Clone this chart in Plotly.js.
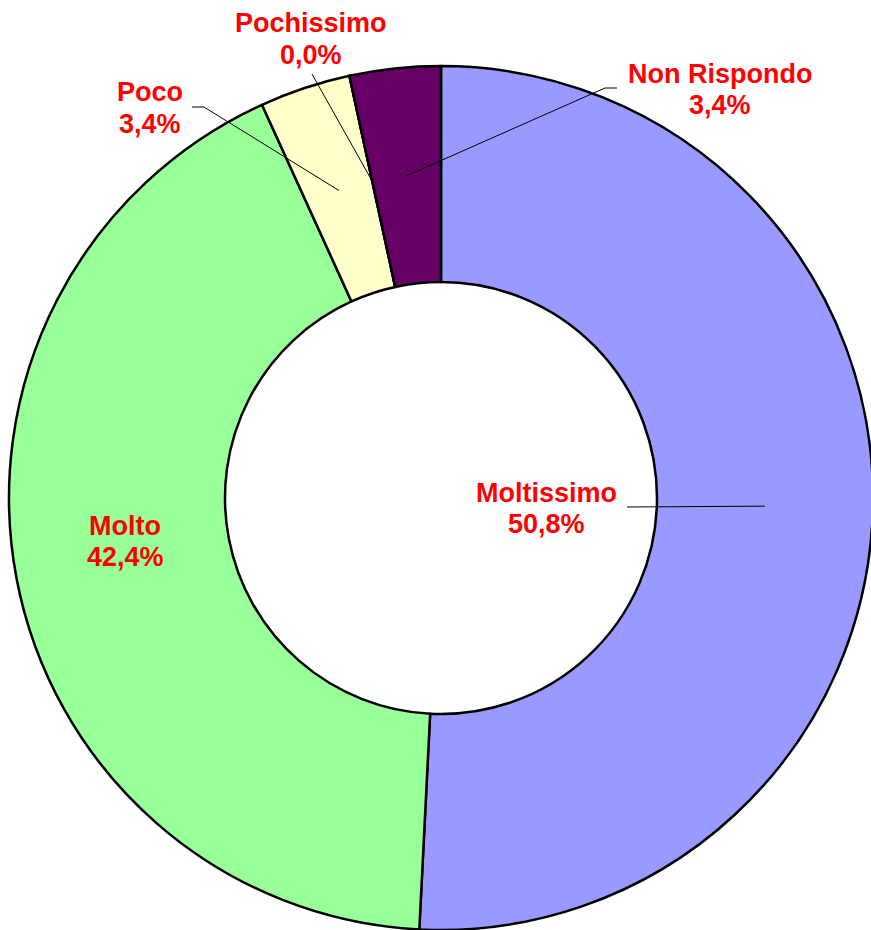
<!DOCTYPE html>
<html><head><meta charset="utf-8">
<script src="https://cdn.plot.ly/plotly-3.0.1.min.js"></script>
<style>html,body{margin:0;padding:0;overflow:hidden;background:#fff}</style>
</head><body><div id="chart"></div>
<script>
// ---- data ----
const categories = ["Moltissimo", "Molto", "Poco", "Pochissimo", "Non Rispondo"];
const values = [50.8, 42.4, 3.4, 0.0, 3.4];
const colors = ["#9999FF", "#99FF99", "#FFFFCC", "#CCFFFF", "#660066"];

// ---- layout helpers (pixel geometry of the page) ----
const W = 873, H = 930, ML = 9, MT = 66, SIZE = 864;
const HOLE = 0.5;
const px2x = p => (p - ML) / SIZE;
const px2y = p => (H - p) / SIZE;

// label first-line baseline positions (px) and leader start points (px)
const labelPos = [[546, 502], [125, 535], [150, 102], [311, 33], [720, 83]];
const leaderStart = [
  [[627, 507]],
  null,
  [[192, 107], [204, 107]],
  [[312, 74]],
  [[617, 88], [605, 88]]
];

const total = values.reduce((a, b) => a + b, 0);
const fmt = v => v.toFixed(1).replace('.', ',') + '%';

const annotations = [];
const shapes = [];
const font = {family: "Liberation Sans, Arial, sans-serif", size: 27, color: "#FF0000", weight: "bold"};
let cum = 0;
categories.forEach((c, i) => {
  const mid = (cum + values[i] / 2) / total;
  cum += values[i];
  const th = mid * 2 * Math.PI;
  const rr = (1 + HOLE) / 2 * 0.5; // paper units (radius = 0.5 paper)
  const ax = 0.5 + rr * Math.sin(th);
  const ay = 0.5 + rr * Math.cos(th);
  const [lx, ly] = labelPos[i];
  annotations.push({xref: 'paper', yref: 'paper', x: px2x(lx), y: px2y(ly - 9.5),
    xanchor: 'center', yanchor: 'middle', showarrow: false,
    text: '<b>' + c + '</b>', font: font});
  annotations.push({xref: 'paper', yref: 'paper', x: px2x(lx), y: px2y(ly + 31 - 9.5),
    xanchor: 'center', yanchor: 'middle', showarrow: false,
    text: '<b>' + fmt(values[i]) + '</b>', font: font});
  if (leaderStart[i]) {
    let d = '';
    leaderStart[i].forEach((p, k) => { d += (k ? ' L ' : 'M ') + px2x(p[0]) + ' ' + px2y(p[1]); });
    d += ' L ' + ax + ' ' + ay;
    shapes.push({type: 'path', xref: 'paper', yref: 'paper', path: d,
      line: {color: '#000000', width: 1}, layer: 'above'});
  }
});

const trace = {
  type: 'pie',
  labels: categories,
  values: values,
  hole: HOLE,
  sort: false,
  direction: 'clockwise',
  rotation: 0,
  textinfo: 'none',
  hoverinfo: 'label+percent',
  marker: {colors: colors, line: {color: '#000000', width: 2.5}},
  domain: {x: [0, 1], y: [0, 1]},
  showlegend: false
};

const layout = {
  width: W, height: H,
  margin: {l: ML, r: W - ML - SIZE, t: MT, b: H - MT - SIZE, pad: 0},
  paper_bgcolor: '#FFFFFF',
  plot_bgcolor: '#FFFFFF',
  showlegend: false,
  annotations: annotations,
  shapes: shapes
};

Plotly.newPlot('chart', [trace], layout, {displayModeBar: false, staticPlot: true});
</script>
</body></html>
